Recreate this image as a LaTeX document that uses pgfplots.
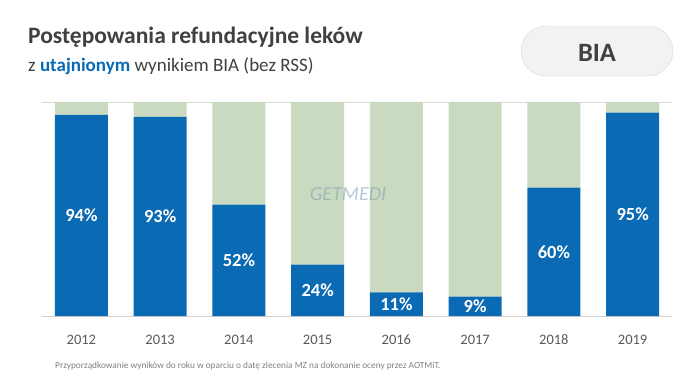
\documentclass[border=0pt]{standalone}
\usepackage{pgfplots}
\pgfplotsset{compat=1.18}
\usepackage{fontspec}
\setmainfont{Carlito}
\definecolor{bblue}{HTML}{0A6AB4}
\definecolor{bgreen}{HTML}{CADAC0}
\definecolor{dgrey}{HTML}{404040}
\definecolor{tgrey}{HTML}{595959}
\begin{document}
\begin{tikzpicture}
\begin{axis}[at={(0,0)},anchor=south west,
  scale only axis,width=630bp,height=214bp,
  ybar stacked,bar width=53bp,
  xmin=-0.5,xmax=7.5,ymin=0,ymax=100,
  axis x line*=bottom,axis y line=none,
  x axis line style={draw=black!18,line width=0.8bp,-},
  xtick=data,xticklabels={2012,2013,2014,2015,2016,2017,2018,2019},
  major tick length=0pt,
  xticklabel style={anchor=base,yshift=-28bp,text=tgrey,font=\fontsize{14.5bp}{17bp}\selectfont},
  clip=false]
\addplot[fill=bblue,draw=none] coordinates {(0,94) (1,93) (2,52) (3,24) (4,11) (5,9) (6,60) (7,95)};
\addplot[fill=bgreen,draw=none] coordinates {(0,6) (1,7) (2,48) (3,76) (4,89) (5,91) (6,40) (7,5)};
\draw[black!15,line width=0.8bp] (axis cs:-0.5,100) -- (axis cs:7.5,100);
\coordinate (l0) at (axis cs:0,47);
\coordinate (l1) at (axis cs:1,46.5);
\coordinate (l2) at (axis cs:2,26);
\coordinate (l3) at (axis cs:3,12);
\coordinate (l4) at (axis cs:4,5.5);
\coordinate (l5) at (axis cs:5,4.5);
\coordinate (l6) at (axis cs:6,30);
\coordinate (l7) at (axis cs:7,47.5);
\end{axis}
\begin{scope}[every node/.style={text=white,font=\fontsize{18.5bp}{22bp}\selectfont\bfseries}]
\node at (l0) {94\%};
\node at (l1) {93\%};
\node at (l2) {52\%};
\node at (l3) {24\%};
\node at (l4) {11\%};
\node at (l5) {9\%};
\node at (l6) {60\%};
\node at (l7) {95\%};
\end{scope}
\begin{scope}[shift={(-42bp,-73bp)},x=1bp,y=1bp]
\path[use as bounding box] (0,0) rectangle (700,389);
\node[anchor=base west,inner sep=0,text=dgrey,font=\fontsize{23.5bp}{28bp}\selectfont\bfseries] at (28,346) {Postępowania refundacyjne leków};
\node[anchor=base west,inner sep=0,text=dgrey,font=\fontsize{19bp}{22bp}\selectfont] at (28,318) {z \textcolor{bblue}{\bfseries utajnionym} wynikiem BIA (bez RSS)};
\draw[fill=black!5,draw=black!15,rounded corners=25bp] (521,313) rectangle (673,363);
\node[anchor=base,inner sep=0,text=dgrey,font=\fontsize{26.5bp}{30bp}\selectfont\bfseries] at (597,328) {BIA};
\node[anchor=base west,inner sep=0,text=black!50,font=\fontsize{9.3bp}{11bp}\selectfont] at (55,21) {Przyporządkowanie wyników do roku w oparciu o datę zlecenia MZ na dokonanie oceny przez AOTMiT.};
\node[text=bblue!50!gray!70,opacity=0.55,font=\fontsize{20bp}{24bp}\selectfont\itshape] at (348,195) {GETMEDI};
\end{scope}
\end{tikzpicture}
\end{document}
